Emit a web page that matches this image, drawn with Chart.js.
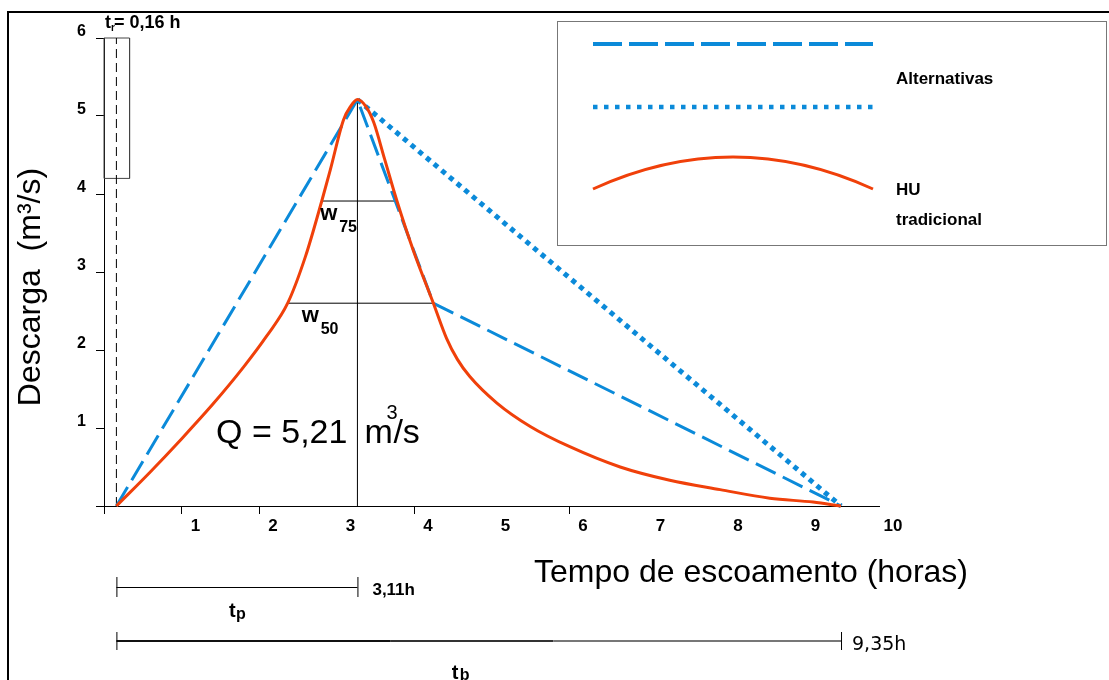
<!DOCTYPE html>
<html>
<head>
<meta charset="utf-8">
<script src="https://cdn.jsdelivr.net/npm/chart.js@4.4.1/dist/chart.umd.min.js"></script>
<style>
  html, body { margin: 0; padding: 0; background: #fff; }
  canvas { display: block; }
</style>
</head>
<body>
<canvas id="hidrograma" width="1109" height="680"></canvas>
<script>
// hidrograma unitario tradicional (horas, m3/s)
const tempoHU = [0.16, 0.6, 1.0, 1.4, 1.8, 2.1, 2.37, 2.6, 2.81, 2.92, 3.09, 3.18, 3.27, 3.38, 3.48, 3.62, 3.78, 3.99, 4.25, 4.42, 4.56, 4.72, 5.07, 5.50, 6.01, 6.66, 7.30, 7.95, 8.59, 9.15, 9.51];
const descargaHU = [0, 0.44, 0.86, 1.30, 1.78, 2.18, 2.60, 3.20, 3.91, 4.31, 4.95, 5.12, 5.21, 5.12, 4.92, 4.45, 3.91, 3.28, 2.60, 2.15, 1.88, 1.66, 1.32, 1.02, 0.76, 0.50, 0.33, 0.21, 0.10, 0.05, 0];

// alternativas (tracejada e pontilhada)
const tempoTracejada = [0.16, 3.27, 4.25, 9.51];
const descargaTracejada = [0, 5.21, 2.60, 0];
const tempoPontilhada = [3.27, 9.51];
const descargaPontilhada = [5.21, 0];

// larguras W75 / W50
const rotulosW = ['75', '50'];
const nivelW = [3.91, 2.60];
const inicioW = [2.81, 2.37];
const fimW = [3.78, 4.25];
const rotuloXW = [2.79, 2.55];

// chuva (t_r) e tempos
const tr = 0.16;
const tp = 3.11;
const tb = 9.35;
const qPico = 5.21;
const chuvaX = [0, 0, 0.33, 0.33, 0];
const chuvaY = [4.2, 6, 6, 4.2, 4.2];

const xTicks = [0, 1, 2, 3, 4, 5, 6, 7, 8, 9, 10];
const xTickMarks = [0, 1, 2, 4, 6];
const yTicks = [0, 1, 2, 3, 4, 5, 6];

const AZUL = '#0b8ad9';
const VERMELHO = '#f0400a';
const FONT = '"Liberation Sans", Arial, sans-serif';

const pts = (xs, ys) => xs.map((x, i) => ({ x: x, y: ys[i] }));
const tPico = tr + tp;

function texto(ctx, s, x, y, size, weight, align, baseline, family) {
    ctx.font = (weight || 'normal') + ' ' + size + 'px ' + (family || FONT);
    ctx.textAlign = align || 'left';
    ctx.textBaseline = baseline || 'alphabetic';
    ctx.fillStyle = '#000';
    ctx.fillText(s, x, y);
}

function segmento(ctx, x1, y1, x2, y2, cor, larg) {
    ctx.strokeStyle = cor;
    ctx.lineWidth = larg;
    ctx.beginPath();
    ctx.moveTo(x1, y1);
    ctx.lineTo(x2, y2);
    ctx.stroke();
}

const anotacoes = {
    id: 'anotacoes',
    afterDraw(chart) {
        const ctx = chart.ctx;
        const sx = chart.scales.x;
        const sy = chart.scales.y;
        ctx.save();

        // moldura
        ctx.strokeStyle = '#000';
        ctx.lineWidth = 2;
        ctx.strokeRect(8, 12, 1200, 800);

        // legenda
        ctx.strokeStyle = '#777';
        ctx.lineWidth = 1;
        ctx.strokeRect(557.5, 21.5, 549, 224);
        ctx.setLineDash([29, 7]);
        segmento(ctx, 593, 44, 873, 44, AZUL, 4);
        ctx.setLineDash([4.5, 6.5]);
        segmento(ctx, 593, 107, 873, 107, AZUL, 4.5);
        ctx.setLineDash([]);
        ctx.strokeStyle = VERMELHO;
        ctx.lineWidth = 3;
        ctx.beginPath(); ctx.moveTo(593, 189); ctx.quadraticCurveTo(733, 125, 873, 189); ctx.stroke();
        texto(ctx, 'Alternativas', 896, 79, 17, 'bold', 'left', 'middle');
        texto(ctx, 'HU', 896, 190, 17, 'bold', 'left', 'middle');
        texto(ctx, 'tradicional', 896, 220, 17, 'bold', 'left', 'middle');

        // t_r
        texto(ctx, 't', 105, 28, 18, 'bold');
        texto(ctx, 'r', 111, 31, 10, 'bold');
        texto(ctx, '= 0,16 h', 114, 28, 18, 'bold');

        // W75 / W50
        rotulosW.forEach((r, i) => {
            const lx = sx.getPixelForValue(rotuloXW[i]);
            const ly = sy.getPixelForValue(nivelW[i]);
            texto(ctx, 'w', lx, ly + 19, 22, 'bold');
            texto(ctx, r, lx + 19, ly + 31, 16, 'bold');
        });

        // Q
        const pPico = sx.getPixelForValue(tPico);
        const base = sy.getPixelForValue(0) - 63;
        texto(ctx, 'Q = ' + String(qPico).replace('.', ','), pPico - 10, base, 34, 'normal', 'right');
        texto(ctx, 'm', pPico + 7, base, 34);
        texto(ctx, '3', pPico + 29, base - 24, 20);
        texto(ctx, '/s', pPico + 36, base, 34);

        // t_p
        const pIni = sx.getPixelForValue(tr);
        const pFim = sx.getPixelForValue(tr + tb);
        segmento(ctx, pIni, 587.5, pPico, 587.5, '#000', 1);
        segmento(ctx, pIni + 0.5, 577, pIni + 0.5, 597, '#000', 1);
        segmento(ctx, pPico + 0.5, 577, pPico + 0.5, 597, '#000', 1);
        texto(ctx, String(tp).replace('.', ',') + 'h', pPico + 15, 590, 17, 'bold', 'left', 'middle');
        const mp = (pIni + pPico) / 2;
        texto(ctx, 't', mp - 8, 617, 20, 'bold');
        texto(ctx, 'p', mp - 1, 619, 16, 'bold');

        // t_b
        const q1 = sx.getPixelForValue(3.7);
        const q2 = sx.getPixelForValue(5.8);
        segmento(ctx, pIni, 641, q1, 641, '#111', 2);
        segmento(ctx, q1, 641, q2, 641, '#333', 2);
        segmento(ctx, q2, 641, pFim, 641, '#777', 2);
        segmento(ctx, pIni + 0.5, 632, pIni + 0.5, 650, '#000', 1);
        segmento(ctx, pFim + 0.5, 632, pFim + 0.5, 650, '#000', 1);
        texto(ctx, String(tb).replace('.', ',') + 'h', pFim + 11, 645, 19, 'normal', 'left', 'middle', '"DejaVu Sans", sans-serif');
        const mb = (pIni + pFim) / 2;
        texto(ctx, 't', mb - 27, 679, 20, 'bold');
        texto(ctx, 'b', mb - 19, 680, 16, 'bold');

        // titulos dos eixos
        texto(ctx, 'Tempo de escoamento (horas)', 751, 573, 32, 'normal', 'center', 'middle');
        ctx.save();
        ctx.translate(31, 287);
        ctx.rotate(-Math.PI / 2);
        texto(ctx, 'Descarga  (m³/s)', 0, 0, 32, 'normal', 'center', 'middle');
        ctx.restore();

        ctx.restore();
    }
};

const linha = (label, data, color, width, extra) => Object.assign({
    label: label,
    data: data,
    borderColor: color,
    borderWidth: width,
    pointRadius: 0,
    fill: false,
    clip: false,
}, extra || {});

const datasets = [
    linha('HU tradicional', pts(tempoHU, descargaHU), VERMELHO, 3, { cubicInterpolationMode: 'monotone' }),
    linha('Alternativas (tracejada)', pts(tempoTracejada, descargaTracejada), AZUL, 3, { borderDash: [22, 8] }),
    linha('Alternativas (pontilhada)', pts(tempoPontilhada, descargaPontilhada), AZUL, 5, { borderDash: [5, 5] }),
    linha('pico', pts([tPico, tPico], [0, qPico]), '#000', 1),
    linha('t_r', pts([tr, tr], [0, 6]), '#000', 1, { borderDash: [9, 5] }),
    linha('chuva', pts(chuvaX, chuvaY), '#444', 1),
];
rotulosW.forEach((r, i) => {
    datasets.push(linha('W' + r, pts([inicioW[i], fimW[i]], [nivelW[i], nivelW[i]]), '#000', 1));
});

const tickFont = { family: FONT, size: 17, weight: 'bold' };

new Chart(document.getElementById('hidrograma').getContext('2d'), {
    type: 'line',
    data: { datasets: datasets },
    options: {
        responsive: false,
        animation: false,
        events: [],
        layout: { padding: { top: 38, right: 230, left: 0, bottom: 0 } },
        plugins: {
            legend: { display: false },
            tooltip: { enabled: false },
        },
        scales: {
            x: {
                type: 'linear',
                min: 0,
                max: 10,
                afterFit: s => { s.height = 174; },
                afterBuildTicks: s => { s.ticks = xTicks.map(v => ({ value: v })); },
                border: { display: true, color: '#000', width: 1 },
                grid: {
                    drawOnChartArea: false,
                    drawTicks: true,
                    tickLength: 8,
                    tickColor: c => xTickMarks.includes(c.tick && c.tick.value) ? '#000' : 'rgba(0,0,0,0)',
                },
                ticks: {
                    autoSkip: false,
                    maxRotation: 0,
                    color: '#000',
                    font: tickFont,
                    padding: 2,
                    labelOffset: 14,
                    callback: v => v === 0 ? '' : v,
                },
            },
            y: {
                type: 'linear',
                min: 0,
                max: 6,
                afterFit: s => { s.width = 104; },
                afterBuildTicks: s => { s.ticks = yTicks.map(v => ({ value: v })); },
                border: { display: true, color: '#000', width: 1 },
                grid: {
                    drawOnChartArea: false,
                    drawTicks: true,
                    tickLength: 8,
                    tickColor: '#000',
                },
                ticks: {
                    color: '#000',
                    font: { family: FONT, size: 16, weight: 'bold' },
                    padding: 10,
                    labelOffset: -6,
                    callback: v => v === 0 ? '' : v,
                },
            },
        },
    },
    plugins: [anotacoes],
});
</script>
</body>
</html>
